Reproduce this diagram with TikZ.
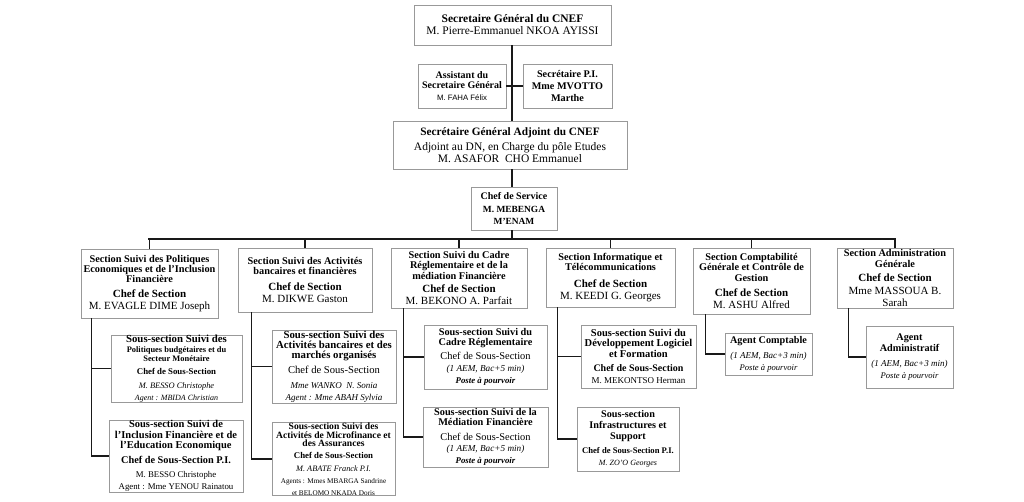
\documentclass[tikz,border=0pt]{standalone}
\usepackage{fontspec}
\setmainfont{Liberation Serif}
\newfontfamily\sansf{Liberation Sans}
\newcommand\fz[2]{\fontsize{#1}{#2}\selectfont}
\begin{document}
\begin{tikzpicture}[x=1pt,y=-1pt]
\tikzset{
  box/.style={draw=black!40, line width=0.7pt, fill=white, align=flush center, inner sep=0pt,
    font={\lineskiplimit=-20pt}},
  conn/.style={line width=1.6pt, black!90},
}
\useasboundingbox (0,0) rectangle (1024,501);
\fill[white] (0,0) rectangle (1024,501);
% top levels
\node[box, minimum width=197, minimum height=40, text width=197] (top) at (512.5,25)
  {\fz{11.5}{17}\bfseries Secretaire Général du CNEF\\ \mdseries M. Pierre-Emmanuel NKOA AYISSI};
\node[box, minimum width=88, minimum height=44, text width=88] (asst) at (462,86)
  {\fz{10}{10.6}\bfseries Assistant du\\Secretaire Général\\ \sansf\mdseries\fz{7.8}{15}M. FAHA Félix};
\node[box, minimum width=89, minimum height=44, text width=89] (sec) at (567.5,86)
  {\fz{10.2}{12}\bfseries Secrétaire P.I.\\Mme MVOTTO\\Marthe};
\node[box, minimum width=234, minimum height=48, text width=234] (sga) at (510,145)
  {\fz{11.3}{15.5}\bfseries Secrétaire Général Adjoint du CNEF\\ \mdseries\fz{11.5}{15.5}Adjoint au DN, en Charge du pôle Etudes\\M. ASAFOR\ \ CHO Emmanuel};
\node[box, minimum width=86, minimum height=43, text width=86] (chef) at (514,208.5)
  {\fz{10}{12}\bfseries Chef de Service\\ \fz{9.4}{13.5}M. MEBENGA\\ \fz{9.4}{8.8}M'ENAM};
% sections
\node[box, minimum width=137, minimum height=69, text width=137] (s1) at (149.5,283.5)
  {\fz{10.3}{10}\bfseries Section Suivi des Politiques\\Economiques et de l'Inclusion\\Financière\\ \fz{11}{15.5}Chef de Section\\ \mdseries\fz{11}{15}M. EVAGLE DIME Joseph};
\node[box, minimum width=134, minimum height=64, text width=134] (s2) at (305,280)
  {\fz{10.3}{10}\bfseries Section Suivi des Activités\\bancaires et financières\\ \fz{11}{15.7}Chef de Section\\ \mdseries\fz{11}{14.3}M. DIKWE Gaston};
\node[box, minimum width=136, minimum height=60, text width=136] (s3) at (459,278)
  {\fz{10.3}{10.5}\bfseries Section Suivi du Cadre\\Réglementaire et de la\\médiation Financière\\ \fz{11}{13.5}Chef de Section\\ \mdseries\fz{11}{14}M. BEKONO A. Parfait};
\node[box, minimum width=129, minimum height=59, text width=129] (s4) at (610.5,277.5)
  {\fz{10.3}{9.8}\bfseries Section Informatique et\\Télécommunications\\ \fz{11}{16.5}Chef de Section\\ \mdseries\fz{11}{15}M. KEEDI G. Georges};
\node[box, minimum width=117, minimum height=66, text width=117] (s5) at (751.5,281)
  {\fz{10.3}{10.5}\bfseries Section Comptabilité\\Générale et Contrôle de\\Gestion\\ \fz{11}{15.5}Chef de Section\\ \mdseries\fz{11}{14.3}M. ASHU Alfred};
\node[box, minimum width=116, minimum height=60, text width=116] (s6) at (895,278)
  {\fz{10.3}{10.5}\bfseries Section Administration\\Générale\\ \fz{11}{14}Chef de Section\\ \mdseries\fz{11}{13}Mme MASSOUA B.\\ \fz{11}{11}Sarah};
% sub-sections
\node[box, minimum width=131, minimum height=67, text width=131] (a1) at (176.5,368.5)
  {\fz{10.8}{10}\bfseries Sous-section Suivi des\\ \fz{8.4}{10}Politiques budgétaires et du\\ \fz{8.4}{8.5}Secteur Monétaire\\ \fz{8.8}{13.5}Chef de Sous-Section\\ \mdseries\itshape\fz{8.4}{13.5}M. BESSO Christophe\\ \fz{8}{11}Agent : MBIDA Christian};
\node[box, minimum width=134, minimum height=72, text width=134] (b1) at (176,456)
  {\fz{10.5}{10.5}\bfseries Sous-section Suivi de\\l'Inclusion Financière et de\\l'Education Economique\\ \fz{10.3}{15}Chef de Sous-Section P.I.\\ \mdseries\fz{8.8}{14.3}M. BESSO Christophe\\ \fz{8.8}{9.6}Agent : Mme YENOU Rainatou};
\node[box, minimum width=124, minimum height=73, text width=124] (a2) at (334,366.5)
  {\fz{10.8}{10}\bfseries Sous-section Suivi des\\Activités bancaires et des\\ \fz{10.8}{9.8}marchés organisés\\ \mdseries\fz{10.6}{15.5}Chef de Sous-Section\\ \itshape\fz{9}{14.5}Mme WANKO\ \ N. Sonia\\ \fz{9}{13.8}Agent : Mme ABAH Sylvia};
\node[box, minimum width=123, minimum height=72, text width=123] (b2) at (333.5,459)
  {\fz{9.6}{8.8}\bfseries Sous-section Suivi des\\Activités de Microfinance et\\des Assurances\\ \fz{8.8}{11.5}Chef de Sous-Section\\ \mdseries\itshape\fz{8.3}{13}M. ABATE Franck P.I.\\ \upshape\fz{7.2}{12}Agents : Mmes MBARGA Sandrine\\ \fz{7.2}{7.6}et BELOMO NKADA Doris};
\node[box, minimum width=123, minimum height=64, text width=123] (a3) at (485.5,357)
  {\fz{10.3}{10.3}\bfseries Sous-section Suivi du\\Cadre Réglementaire\\ \mdseries\fz{10.4}{14}Chef de Sous-Section\\ \itshape\fz{9.2}{11.7}(1 AEM, Bac+5 min)\\ \bfseries\fz{8.8}{13.3}Poste à pourvoir};
\node[box, minimum width=125, minimum height=60, text width=125] (b3) at (485.5,437)
  {\fz{10.3}{9.8}\bfseries Sous-section Suivi de la\\Médiation Financière\\ \mdseries\fz{10.4}{15}Chef de Sous-Section\\ \itshape\fz{9.2}{10.8}(1 AEM, Bac+5 min)\\ \bfseries\fz{8.8}{14.5}Poste à pourvoir};
\node[box, minimum width=115, minimum height=63, text width=115] (a4) at (638.5,356.5)
  {\fz{10.5}{10.5}\bfseries Sous-section Suivi du\\Développement Logiciel\\et Formation\\ \fz{10}{14.6}Chef de Sous-Section\\ \mdseries\fz{9}{15}M. MEKONTSO Herman};
\node[box, minimum width=102, minimum height=64, text width=102] (b4) at (628,439)
  {\fz{10.2}{11}\bfseries Sous-section\\Infrastructures et\\Support\\ \fz{8.6}{14}Chef de Sous-Section P.I.\\ \mdseries\itshape\fz{8}{13.3}M. ZO'O Georges};
\node[box, minimum width=87, minimum height=42, text width=87] (a5) at (768.5,354)
  {\fz{10.2}{12}\bfseries Agent Comptable\\ \mdseries\itshape\fz{9}{15}(1 AEM, Bac+3 min)\\ \fz{8.6}{15}Poste à pourvoir};
\node[box, minimum width=87, minimum height=62, text width=87] (a6) at (909.5,357)
  {\fz{10.2}{10.6}\bfseries Agent\\Administratif\\ \mdseries\itshape\fz{9}{15.4}(1 AEM, Bac+3 min)\\ \fz{8.6}{14}Poste à pourvoir};
% connectors
\coordinate (bus) at (512,239);
\coordinate (trunk) at (512,0);
\draw[conn] (top.south -| trunk) -- (sga.north -| trunk);
\draw[conn] (asst.east) -- (sec.west);
\draw[conn] (sga.south -| trunk) -- (chef.north -| trunk);
\draw[conn] (chef.south -| trunk) -- (bus);
\draw[conn] ([xshift=-1.5pt]s1.north |- bus) -- ([xshift=0.8pt]s6.north |- bus);
\foreach \s in {s1,s2,s3,s4,s5,s6} \draw[conn] (\s.north) -- (\s.north |- bus);
\coordinate (v1) at ([xshift=11pt]s1.south west);
\coordinate (v2) at ([xshift=14pt]s2.south west);
\coordinate (v3) at ([xshift=13pt]s3.south west);
\coordinate (v4) at ([xshift=12pt]s4.south west);
\coordinate (v5) at ([xshift=13pt]s5.south west);
\coordinate (v6) at ([xshift=12pt]s6.south west);
\draw[conn] (v1) |- (a1.west); \draw[conn] (v1) |- (b1.west);
\draw[conn] (v2) |- (a2.west); \draw[conn] (v2) |- (b2.west);
\draw[conn] (v3) |- (a3.west); \draw[conn] (v3) |- (b3.west);
\draw[conn] (v4) |- (a4.west); \draw[conn] (v4) |- (b4.west);
\draw[conn] (v5) |- (a5.west);
\draw[conn] (v6) |- (a6.west);
\end{tikzpicture}
\end{document}
